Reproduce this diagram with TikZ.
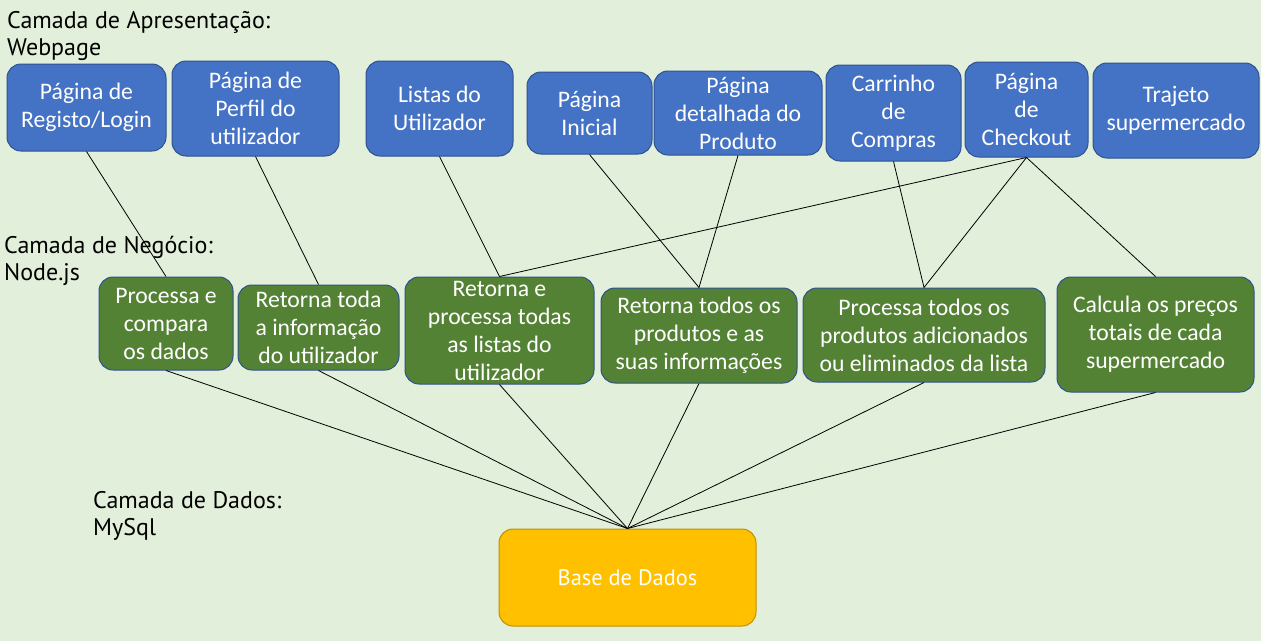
\documentclass[tikz,border=0pt]{standalone}
\usepackage{fontspec}
\setmainfont{Carlito}
\newfontfamily\layerfont{PT Sans}
\usetikzlibrary{positioning}
\usepackage{xcolor}
\definecolor{pagegreen}{HTML}{E2EFDA}
\definecolor{pageblue}{HTML}{4472C4}
\definecolor{edgeblue}{HTML}{2F528F}
\definecolor{logicgreen}{HTML}{548235}
\definecolor{dbyellow}{HTML}{FFC000}
\definecolor{dbedge}{HTML}{BF9000}

\begin{document}
\begin{tikzpicture}[x=1pt,y=-1pt,
    box/.style={rounded corners=14pt, draw=edgeblue, line width=1pt, text=white,
      align=center, inner sep=0pt, font=\fontsize{23.7}{28}\selectfont},
    page box/.style={box, fill=pageblue},
    logic box/.style={box, fill=logicgreen},
    db box/.style={box, fill=dbyellow, draw=dbedge, font=\layerfont\fontsize{22.4}{26}\selectfont},
    layer text/.style={anchor=base west, align=left, inner sep=0pt,
      font=\layerfont\fontsize{24}{27}\selectfont},
    link/.style={black, line width=0.8pt}]

	% Background of the slide.
	\fill [pagegreen] (0,0) rectangle (1261,641);
	\useasboundingbox (0,0) rectangle (1261,641);

	% Layer titles (anchored on the baseline of the last line).
	\node [layer text] (apres) at (7,55) {Camada de Apresentação:\\Webpage};
	\node [layer text] (negocio) at (4,280) {Camada de Negócio:\\Node.js};
	\node [layer text] (dados) at (93,535) {Camada de Dados:\\MySql};

	% Presentation layer: the web pages.
	\node [page box, minimum width=159pt, minimum height=87pt] (login) at (86.5,107.5) {Página de\\Registo/Login};
	\node [page box, minimum width=167pt, minimum height=95pt] (perfil) at (255.5,108.5) {Página de\\Perfil do\\utilizador};
	\node [page box, minimum width=147pt, minimum height=95pt] (listas) at (439.5,108.5) {Listas do\\Utilizador};
	\node [page box, minimum width=125pt, minimum height=82pt] (inicial) at (589.5,113) {Página\\Inicial};
	\node [page box, minimum width=168pt, minimum height=84pt] (produto) at (738,113) {Página\\detalhada do\\Produto};
	\node [page box, minimum width=135pt, minimum height=96pt] (carrinho) at (893.5,113) {Carrinho\\de\\Compras};
	\node [page box, minimum width=123pt, minimum height=95pt] (checkout) at (1026.5,109.5) {Página\\de\\Checkout};
	\node [page box, minimum width=166pt, minimum height=95pt] (trajeto) at (1176,110.5) {Trajeto\\supermercado};

	% Business layer: Node.js services.
	\node [logic box, minimum width=134pt, minimum height=93pt] (compara) at (166,323.5) {Processa e\\compara\\os dados};
	\node [logic box, minimum width=161pt, minimum height=85pt] (info) at (318.5,327.5) {Retorna toda\\a informação\\do utilizador};
	\node [logic box, minimum width=189pt, minimum height=107pt] (todaslistas) at (499.5,330.5) {Retorna e\\processa todas\\as listas do\\utilizador};
	\node [logic box, minimum width=196pt, minimum height=95pt] (produtos) at (699,335.5) {Retorna todos os\\produtos e as\\suas informações};
	\node [logic box, minimum width=242pt, minimum height=94pt] (edita) at (924,335) {Processa todos os\\produtos adicionados\\ou eliminados da lista};
	\node [logic box, minimum width=197pt, minimum height=115pt] (precos) at (1155.5,334.5) {Calcula os preços\\totais de cada\\supermercado};

	% Data layer.
	\node [db box, minimum width=257pt, minimum height=97pt] (bd) at (627.5,577.5) {Base de Dados};

	% Pages to services.
	\draw [link] (login.south) -- (compara.north);
	\draw [link] (perfil.south) -- (info.north);
	\draw [link] (listas.south) -- (todaslistas.north);
	\draw [link] (inicial.south) -- (produtos.north);
	\draw [link] (produto.south) -- (produtos.north);
	\draw [link] (carrinho.south) -- (edita.north);
	\draw [link] (checkout.south) -- (todaslistas.north);
	\draw [link] (checkout.south) -- (edita.north);
	\draw [link] (checkout.south) -- (precos.north);

	% Services to the database.
	\foreach \svc in {compara,info,todaslistas,produtos,edita,precos}
		\draw [link] (\svc.south) -- (bd.north);
\end{tikzpicture}
\end{document}
